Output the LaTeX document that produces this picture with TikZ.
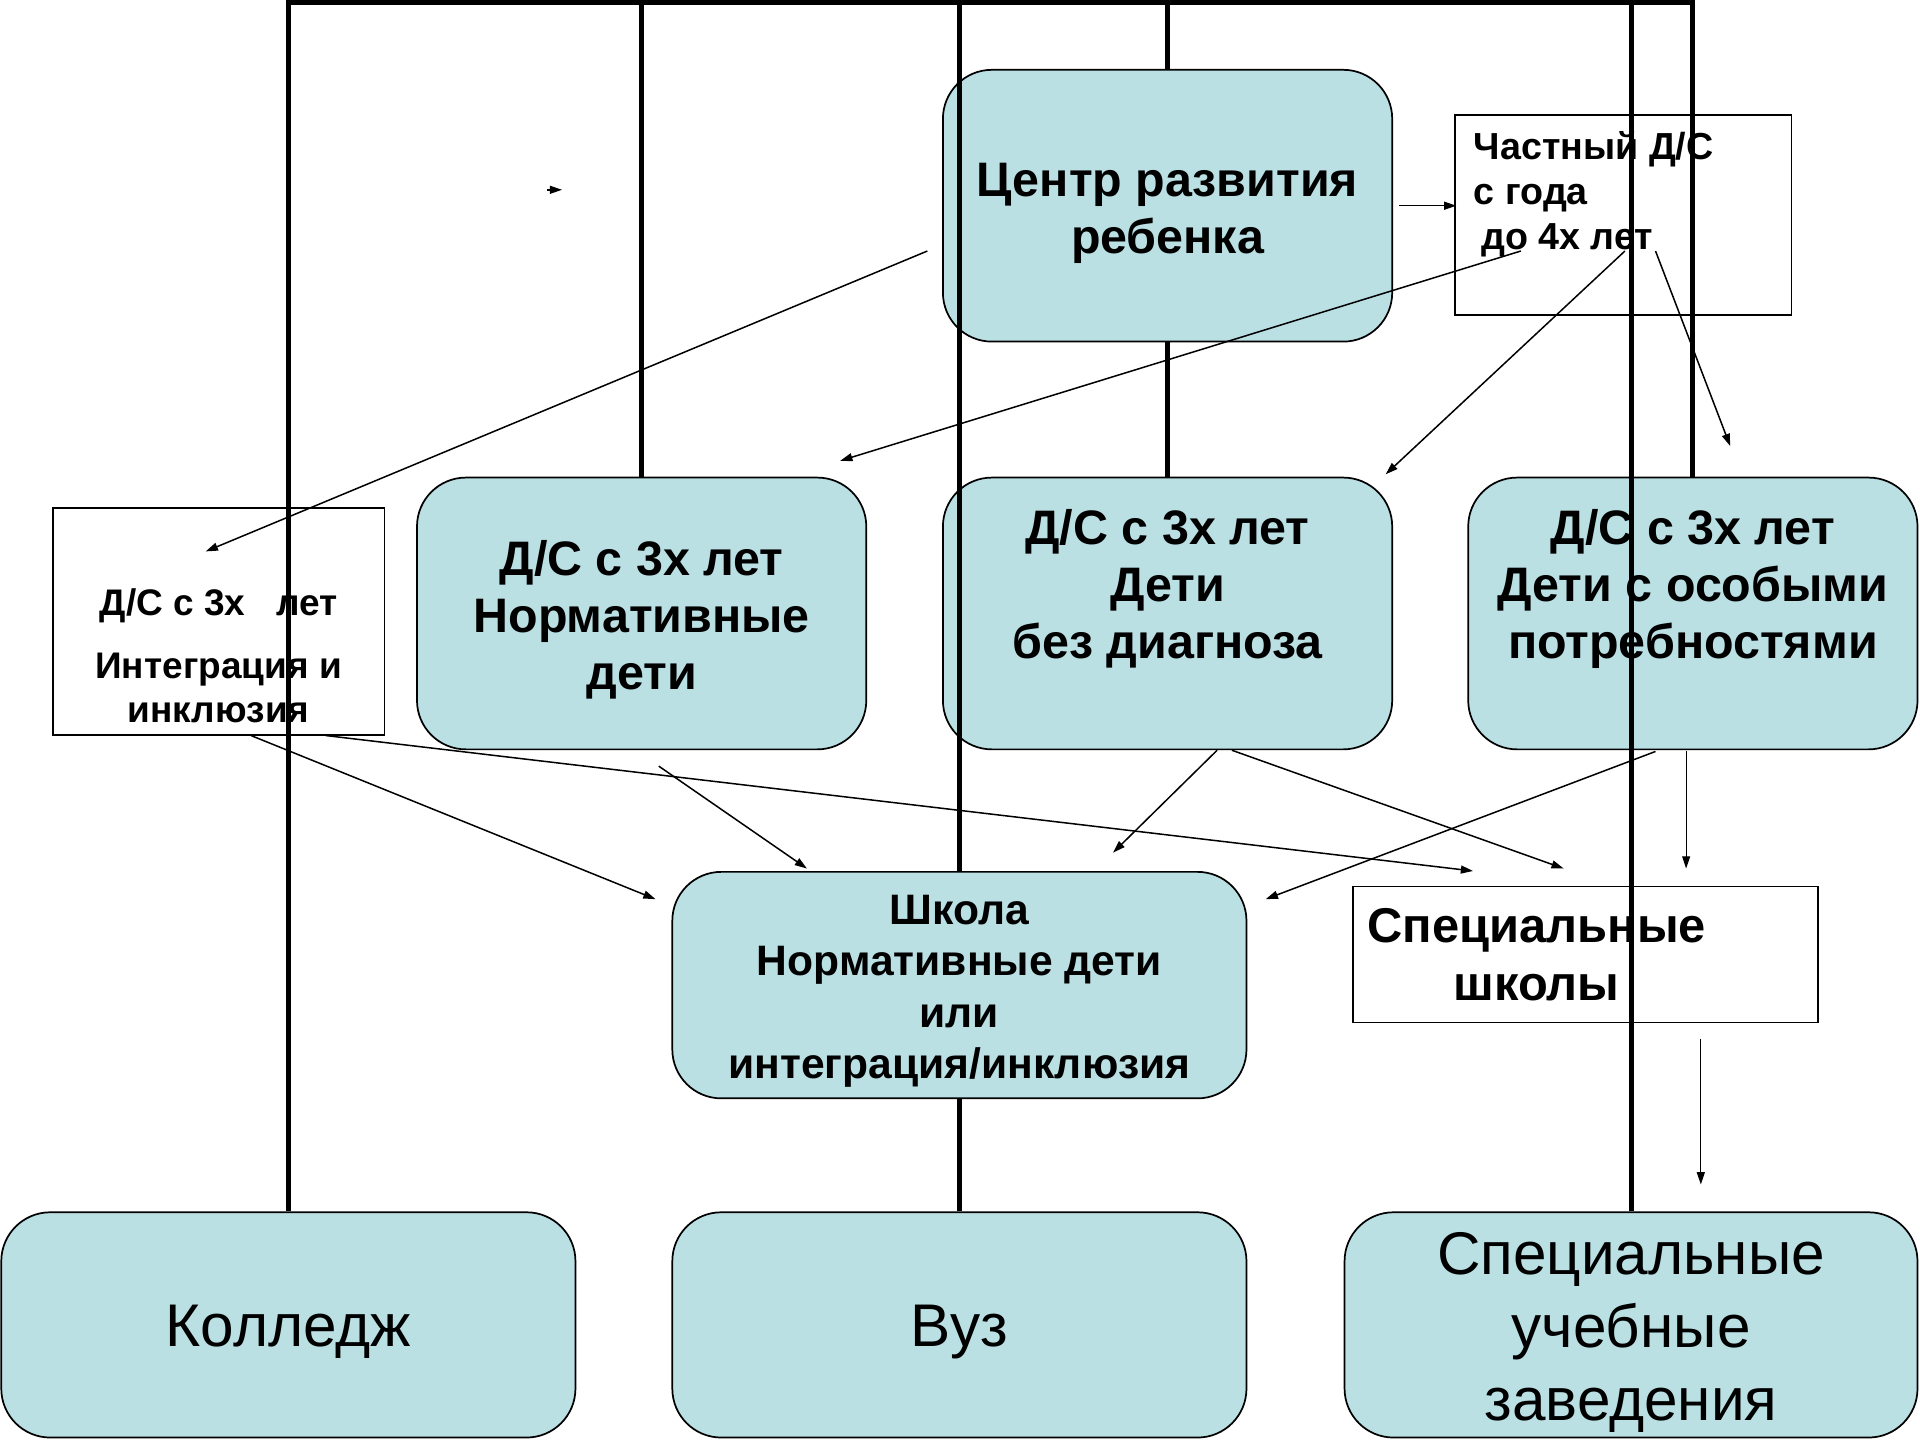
\documentclass[tikz,border=0pt]{standalone}
\usepackage{fontspec}
\setmainfont{Liberation Sans}
\usetikzlibrary{arrows.meta,calc}
\definecolor{boxblue}{RGB}{186,224,228}

\begin{document}
\begin{tikzpicture}[x=0.02cm, y=-0.02cm,
    bluebox/.style={draw=black, line width=0.8pt, fill=boxblue, rounded corners=0.8cm, inner sep=0pt, align=center},
    whitebox/.style={draw=black, line width=0.8pt, fill=white, inner sep=0pt},
    mainbox/.style={minimum width=7.34cm, minimum height=4.44cm},
    lowbox/.style={minimum width=9.38cm, minimum height=3.68cm},
    lowtext/.style={font=\fontsize{28}{33.8}\selectfont, align=center, inner sep=0pt},
    bigtext/.style={font=\fontsize{22.5}{26.6}\selectfont\bfseries, align=center, inner sep=0pt},
    thickline/.style={line width=2.3pt},
    arrow/.style={line width=0.7pt, -{Triangle[length=0.2cm, width=0.13cm]}}]
    \useasboundingbox (0,0) rectangle (1568,1176);

    % boxes
    \node[bluebox, mainbox] (centre) at (953.5,168) {};
    \node[bigtext] (centre text) at ($(centre.center)+(0,6)$) {Центр развития\\ребенка};
    \node[whitebox, minimum width=5.5cm, minimum height=3.26cm] (private) at (1325.5,175.5) {};
    \node[anchor=north west, align=left, inner sep=0pt, font=\fontsize{17.5}{20.8}\selectfont\bfseries]
        (private text) at ($(private.north west)+(16,14)$) {Частный Д/С\\с года\\\hspace{0.12cm}до 4х лет};

    \node[whitebox, minimum width=5.42cm, minimum height=3.7cm] (integ) at (178.5,507.5) {};
    \node[align=center, inner sep=0pt, font=\fontsize{17.2}{20.5}\selectfont\bfseries]
        (integ text) at ($(integ.center)+(0,28)$) {Д/С с 3х\ \ \ лет\\[8.5pt]Интеграция и\\инклюзия};

    \node[bluebox, mainbox] (normative) at (524,501) {};
    \node[bigtext] (normative text) at ($(normative.center)+(0,5)$) {Д/С с 3х лет\\Нормативные\\дети};
    \node[bluebox, mainbox] (nodiag) at (953.5,501) {};
    \node[bigtext] (nodiag text) at ($(nodiag.center)+(0,-20)$) {Д/С с 3х лет\\Дети\\без диагноза};
    \node[bluebox, mainbox] (needs) at (1382.5,501) {};
    \node[bigtext] (needs text) at ($(needs.center)+(0,-20)$) {Д/С с 3х лет\\Дети с особыми\\потребностями};

    \node[bluebox, minimum width=9.38cm, minimum height=3.7cm] (school) at (783.5,804.5) {};
    \node[bigtext, font=\fontsize{19.8}{23.9}\selectfont\bfseries]
        (school text) at ($(school.center)+(0,5)$) {Школа\\Нормативные дети\\или\\интеграция/инклюзия};
    \node[whitebox, minimum width=7.6cm, minimum height=2.22cm] (spschool) at (1295,779.5) {};
    \node[bigtext, font=\fontsize{22.7}{26.7}\selectfont\bfseries]
        (spschool text) at ($(spschool.center)+(-40,0)$) {Специальные\\школы};

    \node[bluebox, lowbox] (college) at (235.5,1082) {};
    \node[lowtext] (college text) at ($(college.center)+(0,6)$) {Колледж};
    \node[bluebox, lowbox] (uni) at (783.5,1082) {};
    \node[lowtext] (uni text) at ($(uni.center)+(0,6)$) {Вуз};
    \node[bluebox, lowbox, minimum width=9.36cm] (spinst) at (1332,1082) {};
    \node[lowtext] (spinst text) at ($(spinst.center)+(0,6)$) {Специальные\\учебные\\заведения};

    % frame lines
    \coordinate (top) at (0,2);
    \draw[thickline] (college.north) -- (college.north |- top) -- (needs.north |- top) -- (needs.north);
    \draw[thickline] (normative.north) -- (normative.north |- top);
    \draw[thickline] (school.north) -- (school.north |- top);
    \draw[thickline] (school.south) -- (uni.north);
    \draw[thickline] (centre.north) -- (centre.north |- top);
    \draw[thickline] (centre.south) -- (nodiag.north);
    \draw[thickline] (spinst.north) -- (spinst.north |- top);

    % arrows
    \draw[arrow] ($(centre.west)+(-12,37)$) -- ($(integ.north)+(-10.5,36)$);
    \draw[arrow] ($(centre.east)+(5,0)$) -- ($(private.west)+(2,-7.5)$);
    \draw[arrow] ($(private.center)+(-83.5,29.5)$) -- ($(normative.north east)+(-22,-13)$);
    \draw[arrow] ($(private.center)+(1.5,29.5)$) -- ($(nodiag.north east)+(-6,-2)$);
    \draw[arrow] ($(private.center)+(26.5,29.5)$) -- ($(needs.north)+(30.5,-25)$);
    \draw[arrow] ($(integ.south)+(26.5,0)$) -- ($(school.north west)+(-13,23)$);
    \draw[arrow] ($(integ.south)+(87.5,0)$) -- ($(spschool.north)+(-92,-12)$);
    \draw[arrow] ($(normative.south)+(14,13)$) -- ($(school.north)+(-124.5,-2)$);
    \draw[arrow] ($(nodiag.south)+(40.5,0)$) -- ($(school.north)+(125.5,-15)$);
    \draw[arrow] ($(nodiag.south)+(52.5,0)$) -- ($(spschool.north)+(-18,-14)$);
    \draw[arrow] ($(needs.south)+(-30.5,1)$) -- ($(school.north east)+(15,23)$);
    \draw[arrow, line width=0.5pt] ($(needs.south)+(-5.5,1)$) -- ($(spschool.north)+(82,-14)$);
    \draw[arrow, line width=0.5pt] ($(spschool.south)+(94,13)$) -- ($(spinst.north)+(57,-22)$);
    \coordinate (stray) at (447,155);
    \draw[arrow] (stray) -- ++(12,0);
\end{tikzpicture}
\end{document}
